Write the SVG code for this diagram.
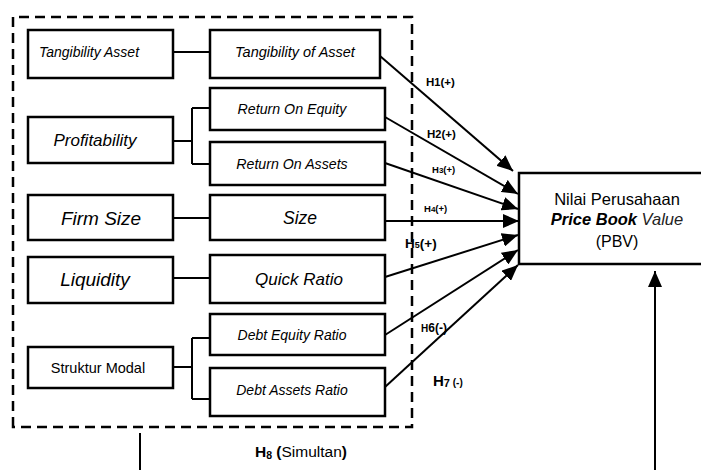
<svg xmlns="http://www.w3.org/2000/svg" width="701" height="470" viewBox="0 0 701 470">
<defs>
<marker id="ah" markerUnits="userSpaceOnUse" markerWidth="18" markerHeight="14" refX="16" refY="7" orient="auto">
<path d="M0,0 L16,7 L0,14 Z" fill="#000"/>
</marker>
<style>
.box{fill:#fff;stroke:#000;stroke-width:2.5}
.dash{fill:none;stroke:#000;stroke-width:2.5;stroke-dasharray:10 6}
.ln{fill:none;stroke:#000;stroke-width:2}
.arr{fill:none;stroke:#000;stroke-width:2;marker-end:url(#ah)}
.t{font-family:"Liberation Sans",Arial,sans-serif;fill:#000;text-anchor:middle}
.i{font-style:italic}
.lb{font-family:"Liberation Sans",Arial,sans-serif;font-weight:bold;fill:#000}
</style>
</defs>
<rect width="701" height="470" fill="#fff"/>
<path class="dash" d="M13,427 L13,17 L412,17 L412,427 Z"/>

<g id="connectors">
<path class="ln" d="M173,52 H210"/>
<path class="ln" d="M173,141 H192 M192,108 V164 M192,108 H210 M192,164 H210"/>
<path class="ln" d="M173,218 H210"/>
<path class="ln" d="M173,278 H210"/>
<path class="ln" d="M173,367 H192 M192,338 V399 M192,338 H210 M192,399 H210"/>
<path class="arr" d="M380,56 L513,171"/>
<path class="arr" d="M385,117 L518,194"/>
<path class="arr" d="M385,163 L518,209"/>
<path class="arr" d="M385,221 L519,221"/>
<path class="arr" d="M385,277 L518,235"/>
<path class="arr" d="M385,335 L518,250"/>
<path class="arr" d="M385,387 L518,265"/>
<path class="ln" d="M140,433 V470"/>
<path class="arr" d="M655,470 L655,271"/>
</g>

<g id="n-tangibility-asset"><rect class="box" x="28" y="30" width="145" height="48"/><text class="t i" x="89" y="57" font-size="14">Tangibility Asset</text></g>
<g id="n-profitability"><rect class="box" x="28" y="117" width="145" height="46"/><text class="t i" x="95" y="146" font-size="17">Profitability</text></g>
<g id="n-firm-size"><rect class="box" x="28" y="195" width="145" height="45"/><text class="t i" x="101" y="225" font-size="19">Firm Size</text></g>
<g id="n-liquidity"><rect class="box" x="28" y="257" width="145" height="46"/><text class="t i" x="95" y="286" font-size="19">Liquidity</text></g>
<g id="n-struktur-modal"><rect class="box" x="28" y="347" width="145" height="41"/><text class="t" x="98" y="373" font-size="14.5">Struktur Modal</text></g>

<g id="n-tangibility-of-asset"><rect class="box" x="210" y="30" width="170" height="48"/><text class="t i" x="295" y="57" font-size="14.5">Tangibility of Asset</text></g>
<g id="n-roe"><rect class="box" x="210" y="88" width="175" height="42"/><text class="t i" x="292" y="114" font-size="14.2">Return On Equity</text></g>
<g id="n-roa"><rect class="box" x="210" y="142" width="175" height="43"/><text class="t i" x="292" y="169" font-size="14.2">Return On Assets</text></g>
<g id="n-size"><rect class="box" x="210" y="195" width="175" height="45"/><text class="t i" x="300" y="224" font-size="17.5">Size</text></g>
<g id="n-quick-ratio"><rect class="box" x="210" y="255" width="175" height="48"/><text class="t i" x="299" y="285" font-size="17">Quick Ratio</text></g>
<g id="n-der"><rect class="box" x="210" y="314" width="175" height="41"/><text class="t i" x="292" y="340" font-size="14">Debt Equity Ratio</text></g>
<g id="n-dar"><rect class="box" x="210" y="368" width="175" height="48"/><text class="t i" x="292" y="395" font-size="14">Debt Assets Ratio</text></g>

<g id="n-pbv"><rect class="box" x="519" y="173" width="190" height="91"/>
<text class="t" x="617" y="205" font-size="16.5">Nilai Perusahaan</text>
<text class="t" x="617" y="225" font-size="16.5"><tspan font-style="italic" font-weight="bold">Price Book</tspan> <tspan font-style="italic" font-weight="300" fill="#222">Value</tspan></text>
<text class="t" x="617" y="247" font-size="16">(PBV)</text>
</g>

<g id="labels">
<text class="lb" x="426" y="86" font-size="11.5">H<tspan font-size="11">1</tspan>(+)</text>
<text class="lb" x="427" y="138" font-size="11.5">H<tspan font-size="11">2</tspan>(+)</text>
<text class="lb" x="432" y="173" font-size="9.5">H<tspan font-size="8">3</tspan>(+)</text>
<text class="lb" x="424" y="212" font-size="9.5">H<tspan font-size="8">4</tspan>(+)</text>
<text class="lb" x="405" y="248" font-size="13.5">H<tspan font-size="9">5</tspan>(+)</text>
<text class="lb" x="421" y="332" font-size="12"><tspan font-size="10">H</tspan>6(-)</text>
<text class="lb" x="433" y="386" font-size="15">H<tspan font-size="11" dy="1">7</tspan><tspan font-size="10" dy="-1"> (-)</tspan></text>
<text class="lb" x="255" y="457" font-size="15.5">H<tspan font-size="10.5" dy="2">8</tspan><tspan dy="-2"> (</tspan><tspan font-weight="normal">Simultan</tspan>)</text>
</g>
</svg>
